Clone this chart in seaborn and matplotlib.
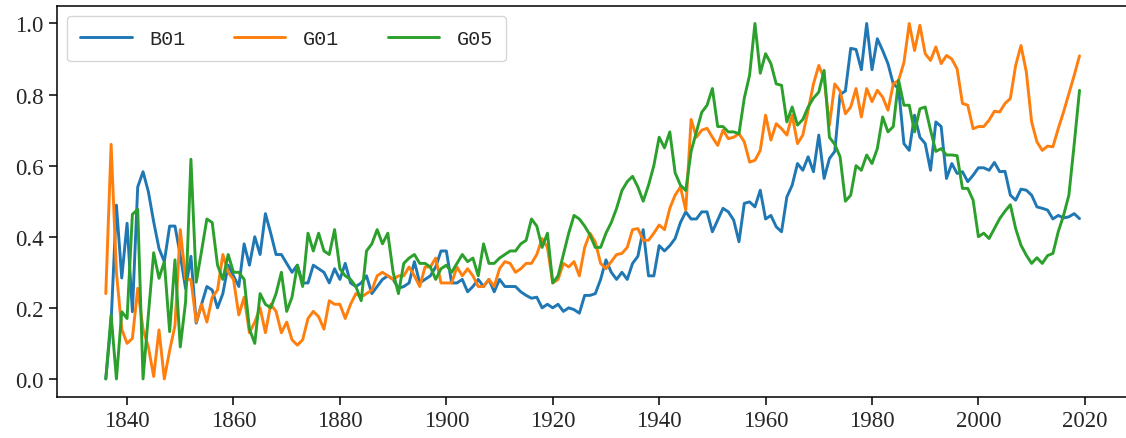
import numpy as np
import pandas as pd
import matplotlib
matplotlib.use("Agg")
import matplotlib.pyplot as plt
import seaborn as sns

# yearly values 1836-2019, each series scaled to 0..1
years = list(range(1836, 2020))

b01 = [
    0.00, 0.16, 0.489, 0.284,                                          # 1836-1839
    0.438, 0.189, 0.54, 0.583, 0.527, 0.442, 0.367, 0.33, 0.43, 0.43,  # 1840s
    0.348, 0.254, 0.345, 0.157, 0.21, 0.26, 0.25, 0.20, 0.24, 0.32,    # 1850s
    0.29, 0.26, 0.38, 0.32, 0.40, 0.35, 0.465, 0.41, 0.35, 0.35,       # 1860s
    0.325, 0.30, 0.32, 0.27, 0.27, 0.32, 0.31, 0.30, 0.27, 0.31,       # 1870s
    0.28, 0.325, 0.27, 0.26, 0.27, 0.29, 0.24, 0.26, 0.28, 0.29,       # 1880s
    0.28, 0.255, 0.26, 0.27, 0.33, 0.27, 0.28, 0.29, 0.315, 0.36,      # 1890s
    0.36, 0.27, 0.27, 0.28, 0.245, 0.26, 0.28, 0.26, 0.28, 0.245,      # 1900s
    0.28, 0.26, 0.26, 0.26, 0.245, 0.235, 0.227, 0.23, 0.20, 0.21,     # 1910s
    0.20, 0.21, 0.19, 0.20, 0.195, 0.185, 0.235, 0.235, 0.24, 0.28,    # 1920s
    0.335, 0.30, 0.28, 0.30, 0.28, 0.325, 0.345, 0.42, 0.29, 0.29,     # 1930s
    0.375, 0.36, 0.375, 0.395, 0.44, 0.47, 0.45, 0.45, 0.47, 0.47,     # 1940s
    0.414, 0.447, 0.48, 0.47, 0.447, 0.386, 0.494, 0.498, 0.484, 0.531,  # 1950s
    0.45, 0.46, 0.428, 0.414, 0.512, 0.545, 0.606, 0.587, 0.625, 0.583,  # 1960s
    0.686, 0.564, 0.62, 0.64, 0.80, 0.81, 0.93, 0.927, 0.87, 1.0,      # 1970s
    0.87, 0.957, 0.924, 0.887, 0.83, 0.817, 0.662, 0.643, 0.742, 0.68,  # 1980s
    0.662, 0.587, 0.723, 0.71, 0.564, 0.606, 0.578, 0.583, 0.555, 0.573,  # 1990s
    0.594, 0.594, 0.587, 0.609, 0.583, 0.584, 0.517, 0.503, 0.534, 0.531,  # 2000s
    0.517, 0.484, 0.48, 0.475, 0.45, 0.46, 0.453, 0.456, 0.465, 0.451,  # 2010s
]

g01 = [
    0.24, 0.66, 0.30, 0.14,
    0.10, 0.114, 0.255, 0.14, 0.09, 0.007, 0.138, 0.0, 0.08, 0.15,
    0.42, 0.28, 0.28, 0.16, 0.21, 0.16, 0.23, 0.25, 0.35, 0.30,
    0.28, 0.18, 0.23, 0.13, 0.16, 0.20, 0.13, 0.21, 0.19, 0.13,
    0.16, 0.11, 0.095, 0.11, 0.17, 0.19, 0.175, 0.14, 0.22, 0.21,
    0.21, 0.17, 0.21, 0.24, 0.23, 0.24, 0.25, 0.29, 0.30, 0.29,
    0.28, 0.29, 0.29, 0.315, 0.29, 0.26, 0.315, 0.315, 0.34, 0.27,
    0.27, 0.27, 0.315, 0.29, 0.31, 0.29, 0.26, 0.26, 0.28, 0.26,
    0.31, 0.33, 0.325, 0.30, 0.31, 0.325, 0.325, 0.35, 0.395, 0.37,
    0.27, 0.28, 0.325, 0.315, 0.33, 0.29, 0.37, 0.41, 0.385, 0.325,
    0.31, 0.33, 0.35, 0.353, 0.37, 0.42, 0.423, 0.39, 0.39, 0.41,
    0.433, 0.42, 0.48, 0.517, 0.54, 0.475, 0.73, 0.68, 0.70, 0.705,
    0.68, 0.657, 0.70, 0.676, 0.68, 0.69, 0.667, 0.61, 0.615, 0.643,
    0.742, 0.672, 0.718, 0.704, 0.686, 0.742, 0.662, 0.686, 0.756, 0.83,
    0.882, 0.845, 0.714, 0.83, 0.81, 0.746, 0.765, 0.817, 0.737, 0.817,
    0.78, 0.812, 0.793, 0.756, 0.83, 0.84, 0.89, 1.0, 0.924, 0.995,
    0.915, 0.896, 0.934, 0.887, 0.91, 0.90, 0.872, 0.775, 0.77, 0.704,
    0.71, 0.71, 0.728, 0.753, 0.751, 0.775, 0.789, 0.882, 0.938, 0.864,
    0.723, 0.667, 0.643, 0.655, 0.653, 0.704, 0.751, 0.803, 0.854, 0.909,
]

g05 = [
    0.0, 0.18, 0.0, 0.189,
    0.17, 0.463, 0.477, 0.0, 0.18, 0.355, 0.283, 0.33, 0.133, 0.335,
    0.09, 0.217, 0.618, 0.272, 0.36, 0.45, 0.44, 0.32, 0.28, 0.35,
    0.30, 0.30, 0.28, 0.14, 0.10, 0.24, 0.21, 0.20, 0.24, 0.30,
    0.19, 0.23, 0.32, 0.26, 0.41, 0.36, 0.41, 0.36, 0.35, 0.42,
    0.31, 0.29, 0.28, 0.26, 0.22, 0.36, 0.38, 0.42, 0.38, 0.41,
    0.30, 0.24, 0.325, 0.34, 0.35, 0.325, 0.325, 0.315, 0.28, 0.31,
    0.32, 0.30, 0.325, 0.35, 0.33, 0.34, 0.29, 0.38, 0.325, 0.325,
    0.34, 0.35, 0.36, 0.36, 0.38, 0.39, 0.45, 0.43, 0.37, 0.41,
    0.27, 0.29, 0.35, 0.41, 0.46, 0.45, 0.43, 0.405, 0.37, 0.37,
    0.41, 0.44, 0.48, 0.53, 0.555, 0.57, 0.54, 0.50, 0.545, 0.60,
    0.68, 0.65, 0.695, 0.58, 0.545, 0.53, 0.64, 0.695, 0.75, 0.77,
    0.817, 0.71, 0.71, 0.695, 0.695, 0.69, 0.79, 0.855, 1.0, 0.86,
    0.915, 0.887, 0.83, 0.826, 0.723, 0.765, 0.714, 0.73, 0.765, 0.79,
    0.807, 0.868, 0.68, 0.66, 0.625, 0.50, 0.517, 0.60, 0.587, 0.63,
    0.606, 0.648, 0.737, 0.695, 0.71, 0.84, 0.77, 0.77, 0.695, 0.76,
    0.765, 0.70, 0.64, 0.648, 0.63, 0.63, 0.628, 0.536, 0.536, 0.503,
    0.40, 0.41, 0.395, 0.423, 0.451, 0.472, 0.49, 0.423, 0.376, 0.348,
    0.325, 0.341, 0.325, 0.347, 0.353, 0.414, 0.46, 0.517, 0.66, 0.812,
]

series_names = ["B01", "G01", "G05"]
colors = ["#1f77b4", "#ff7f0e", "#2ca02c"]

df = pd.DataFrame({
    "year": years * 3,
    "value": b01 + g01 + g05,
    "series": [s for s in series_names for _ in years],
})

sns.set_style("ticks")
plt.rcParams["font.family"] = ["Liberation Serif", "DejaVu Serif"]

fig = plt.figure(figsize=(11.26, 4.39), dpi=100)
# right spine sits just outside the picture, as in the reference
ax = fig.add_axes([57.1 / 1126, 41.3 / 439, 1071.1 / 1126, 391.0 / 439])

sns.lineplot(data=df, x="year", y="value", hue="series",
             palette=colors, linewidth=2.1, ax=ax)

ax.set_xlim(1826.85, 2028.15)
ax.set_ylim(-0.05, 1.05)
ax.set_xticks(range(1840, 2021, 20))
ax.set_yticks(np.arange(0, 1.01, 0.2))
ax.yaxis.set_major_formatter(matplotlib.ticker.FormatStrFormatter("%.1f"))
ax.set_xlabel("")
ax.set_ylabel("")
ax.tick_params(labelsize=16.5, length=6, width=1.1, color="black")
for sp in ax.spines.values():
    sp.set_linewidth(1.1)
    sp.set_color("black")

ax.legend(ncol=3, loc="upper left", handlelength=2.55, handletextpad=0.88,
          columnspacing=2.4, borderpad=0.65, frameon=True,
          prop={"family": ["Liberation Mono", "DejaVu Sans Mono"], "size": 14.5})

fig.savefig("out.png", dpi=100)
